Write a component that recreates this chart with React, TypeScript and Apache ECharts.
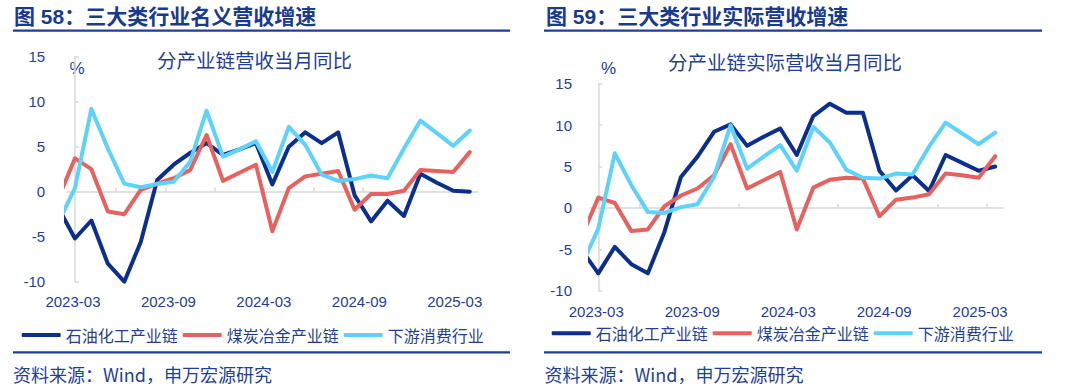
import React, { useEffect, useRef } from 'react';
import * as echarts from 'echarts';

// Months (first one, 2023-02, lies just before the axis start and is clipped)
const months = [
  '2023-02', '2023-03', '2023-04', '2023-05', '2023-06', '2023-07', '2023-08', '2023-09',
  '2023-10', '2023-11', '2023-12', '2024-01', '2024-02', '2024-03', '2024-04', '2024-05',
  '2024-06', '2024-07', '2024-08', '2024-09', '2024-10', '2024-11', '2024-12', '2025-01',
  '2025-02', '2025-03',
];
const xLabels = ['2023-03', '2023-09', '2024-03', '2024-09', '2025-03'];
const yTicks = [-10, -5, 0, 5, 10, 15];
const seriesNames = ['石油化工产业链', '煤炭冶金产业链', '下游消费行业'];

// Figure 58: nominal revenue growth, %
const petroNominal = [-1.8, -5.2, -3.2, -8.0, -10.0, -5.6, 1.3, 3.0, 4.3, 5.4, 4.1, 4.7, 5.4, 0.8, 5.0, 6.6, 5.4, 6.6, -0.4, -3.3, -1.0, -2.7, 2.0, 1.0, 0.1, 0.0];
const coalNominal = [-0.7, 3.7, 2.5, -2.2, -2.5, 0.2, 0.9, 1.5, 2.4, 6.3, 1.2, 2.1, 3.0, -4.4, 0.4, 1.7, 2.0, 2.3, -2.0, -0.25, -0.25, 0.1, 2.4, 2.3, 2.2, 4.4];
const consumerNominal = [-3.4, 0.4, 9.2, 4.8, 0.9, 0.5, 0.85, 1.1, 3.3, 9.0, 3.9, 4.7, 5.6, 2.2, 7.2, 5.2, 1.9, 1.2, 1.4, 1.8, 1.5, 4.8, 7.9, 6.5, 5.1, 6.8];

// Figure 59: real revenue growth, %
const petroReal = [-5.1, -7.9, -4.7, -6.8, -7.9, -2.9, 3.75, 6.2, 9.2, 10.1, 7.5, 8.6, 9.6, 6.4, 11.1, 12.6, 11.5, 11.5, 4.5, 2.1, 3.95, 2.05, 6.4, 5.45, 4.5, 5.0];
const coalReal = [-3.45, 1.25, 0.6, -2.8, -2.6, 0.2, 1.5, 2.35, 3.95, 7.7, 2.35, 3.35, 4.35, -2.6, 2.45, 3.4, 3.65, 3.55, -1.0, 1.0, 1.25, 1.65, 4.15, 3.95, 3.65, 6.25];
const consumerReal = [-6.9, -2.5, 6.6, 2.75, -0.5, -0.6, 0.1, 0.45, 3.75, 10.0, 4.75, 6.2, 7.6, 4.5, 9.8, 7.9, 4.6, 3.65, 3.55, 4.15, 4.05, 7.4, 10.3, 9.0, 7.7, 9.1];

const FONT = '"Liberation Sans", Arial, "Noto Sans CJK SC", sans-serif';
const CJK = '"Noto Sans CJK SC", "Liberation Sans", sans-serif';
const TEXT = '#1f3f93';
const TITLE = '#1a3a8c';
const AXIS = '#d9d9d9';
const COLORS = ['#0b2f8e', '#e8615f', '#5dd2fb'];

const X_MIN = -0.5;
const X_MAX = 24.5;

// month index of each point: 2023-03 -> 0
const toPoints = (vals: number[]) => vals.map((v, k) => [k - 1, v]);
const tickPositions = months
  .map((_, k) => k - 1)
  .filter((i) => i >= 0 && i < 24 && i % 3 === 2)
  .map((i) => i + 0.5);
const labelPositions = xLabels.map((l) => (months.indexOf(l) - 1) * 0.967 - 0.12);

function labelFor(v: number) {
  let best = 0;
  let d = Infinity;
  labelPositions.forEach((p, k) => {
    if (Math.abs(p - v) < d) {
      d = Math.abs(p - v);
      best = k;
    }
  });
  return xLabels[best];
}

export default function App() {
  const ref = useRef<HTMLDivElement>(null);
  useEffect(() => {
    document.body.style.margin = '0';
    const chart = echarts.init(ref.current!, null, { renderer: 'svg' });

    const grids = [
      { left: 66.7, top: 56.7, width: 411.3, height: 225, labelMargin: 12, yMargin: 21.5 },
      { left: 590, top: 83.8, width: 413.5, height: 206.9, labelMargin: 13.5, yMargin: 18 },
    ];

    const xAxis: any[] = [];
    const yAxis: any[] = [];
    grids.forEach((g, gi) => {
      xAxis.push({
        type: 'value',
        gridIndex: gi,
        min: X_MIN,
        max: X_MAX,
        axisLine: { show: true, onZero: true, lineStyle: { color: AXIS, width: 1.5 } },
        axisTick: {
          show: true,
          inside: true,
          length: 4,
          customValues: tickPositions,
          lineStyle: { color: AXIS, width: 1.5 },
        },
        axisLabel: { show: false },
        splitLine: { show: false },
      });
      xAxis.push({
        type: 'value',
        gridIndex: gi,
        position: 'bottom',
        min: X_MIN,
        max: X_MAX,
        axisLine: { show: false, onZero: false },
        axisTick: { show: false },
        splitLine: { show: false },
        axisLabel: {
          show: true,
          customValues: labelPositions,
          formatter: (v: number) => labelFor(v),
          color: TEXT,
          fontSize: 15,
          fontFamily: FONT,
          margin: g.labelMargin,
        },
      });
      yAxis.push({
        type: 'value',
        gridIndex: gi,
        min: yTicks[0],
        max: yTicks[yTicks.length - 1],
        interval: 5,
        axisLine: { show: true, lineStyle: { color: AXIS, width: 1.5 } },
        axisTick: { show: true, inside: true, length: 4, lineStyle: { color: AXIS, width: 1.5 } },
        axisLabel: { color: TEXT, fontSize: 15, fontFamily: FONT, margin: g.yMargin },
        splitLine: { show: false },
      });
    });

    const panels = [
      [petroNominal, coalNominal, consumerNominal],
      [petroReal, coalReal, consumerReal],
    ];
    const series: any[] = [];
    panels.forEach((set, gi) => {
      set.forEach((vals, si) => {
        series.push({
          type: 'line',
          name: seriesNames[si],
          xAxisIndex: gi * 2,
          yAxisIndex: gi,
          data: toPoints(vals),
          symbol: 'none',
          clip: true,
          color: COLORS[si],
          lineStyle: { width: 4, color: COLORS[si], cap: 'round', join: 'round' },
          silent: true,
        });
      });
    });

    const legendCommon = {
      data: seriesNames,
      icon: 'roundRect',
      itemWidth: 39,
      itemHeight: 4,
      itemGap: 5,
      padding: 0,
      selectedMode: false,
      textStyle: { fontSize: 16, color: TEXT, fontFamily: CJK },
    };

    const txt = (x: number, y: number, text: string, size: number, opts: any = {}) => ({
      type: 'text',
      x,
      y,
      silent: true,
      style: {
        text,
        fontSize: size,
        fontFamily: opts.family || CJK,
        fontWeight: opts.weight || 'normal',
        fill: opts.color || TEXT,
        verticalAlign: 'middle',
        align: 'left',
      },
    });
    const rule = (x1: number, x2: number, y: number) => ({
      type: 'line',
      silent: true,
      shape: { x1, y1: y, x2, y2: y },
      style: { stroke: '#1d3f97', lineWidth: 2.2 },
    });

    const option: any = {
      animation: false,
      grid: grids.map((g) => ({ left: g.left, top: g.top, width: g.width, height: g.height, containLabel: false })),
      xAxis,
      yAxis,
      series,
      legend: [
        { ...legendCommon, left: 21.7, top: 327 },
        { ...legendCommon, left: 551.7, top: 325.3 },
      ],
      graphic: [
        txt(14, 16, '图 58：三大类行业名义营收增速', 21, { weight: 'bold', color: TITLE, family: FONT }),
        txt(546, 16, '图 59：三大类行业实际营收增速', 21, { weight: 'bold', color: TITLE, family: FONT }),
        rule(13, 510, 30.7),
        rule(544, 1042, 30.7),
        txt(157, 59, '分产业链营收当月同比', 19.5),
        txt(668, 61, '分产业链实际营收当月同比', 19.5),
        txt(69.5, 68, '%', 17, { family: FONT }),
        txt(601, 68, '%', 17, { family: FONT }),
        rule(13, 510, 352.3),
        rule(544, 1042, 352.3),
        txt(13, 374, '资料来源：Wind，申万宏源研究', 18),
        txt(544.5, 374, '资料来源：Wind，申万宏源研究', 18),
      ],
    };

    chart.setOption(option);
    return () => chart.dispose();
  }, []);
  return <div ref={ref} style={{ width: 1080, height: 390 }} />;
}
